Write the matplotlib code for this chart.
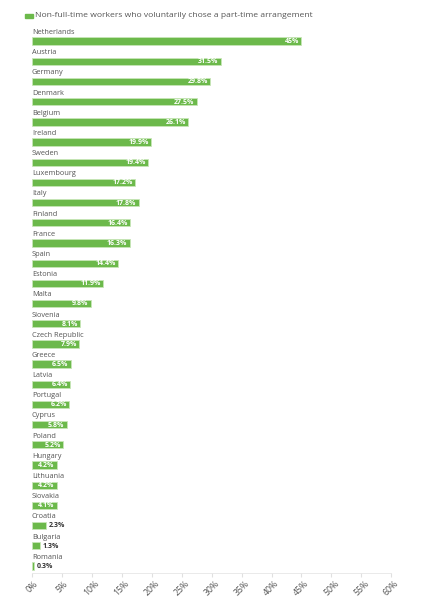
import matplotlib
matplotlib.use("Agg")
import matplotlib.pyplot as plt
from matplotlib.patches import Rectangle

countries = ["Netherlands", "Austria", "Germany", "Denmark", "Belgium", "Ireland",
             "Sweden", "Luxembourg", "Italy", "Finland", "France", "Spain", "Estonia",
             "Malta", "Slovenia", "Czech Republic", "Greece", "Latvia", "Portugal",
             "Cyprus", "Poland", "Hungary", "Lithuania", "Slovakia", "Croatia",
             "Bulgaria", "Romania"]
values = [45, 31.5, 29.8, 27.5, 26.1, 19.9, 19.4, 17.2, 17.8, 16.4, 16.3, 14.4, 11.9,
          9.8, 8.1, 7.9, 6.5, 6.4, 6.2, 5.8, 5.2, 4.2, 4.2, 4.1, 2.3, 1.3, 0.3]
ticks = list(range(0, 61, 5))
legend_label = "Non-full-time workers who voluntarily chose a part-time arrangement"

green = "#6cb94b"
plt.rcParams['font.family'] = ['Open Sans', 'DejaVu Sans']

fig = plt.figure(figsize=(4.48, 6), dpi=100)
ax = fig.add_axes([0.0714, 0.045, 0.802, 0.91])

ypos = list(range(len(countries)))
ax.barh(ypos, values, height=0.36, color=green, edgecolor="#c8e6b8", linewidth=0.6)

for y, name, v in zip(ypos, countries, values):
    ax.text(0, y - 0.43, name, fontsize=5.3, color="#555555", va="center", ha="left")
    txt = f"{v:g}%"
    if v > 3:
        ax.text(v - 0.4, y + 0.02, txt, fontsize=5, color="white", fontweight="bold",
                va="center", ha="right")
    else:
        ax.text(v + 0.5, y + 0.02, txt, fontsize=5, color="#333333", fontweight="bold",
                va="center", ha="left")

ax.set_xlim(0, 60)
ax.set_ylim(26.35, -0.7)
ax.set_yticks([])
ax.set_xticks(ticks)
ax.set_xticklabels([f"{t}%" for t in ticks], rotation=45, ha="center", va="top",
                   fontsize=6.3, color="#555555")
ax.tick_params(axis="x", length=3, color="#e0e0e0", pad=1.5)
for s in ["top", "right", "left"]:
    ax.spines[s].set_visible(False)
ax.spines["bottom"].set_color("#e6e6e6")
ax.spines["bottom"].set_linewidth(0.6)

# legend
fig.patches.append(Rectangle((0.056, 0.970), 0.018, 0.007, transform=fig.transFigure,
                             color=green))
fig.text(0.078, 0.9735, legend_label, fontsize=6.1, color="#555555", va="center", ha="left")

fig.savefig("out.png", dpi=100, facecolor="white")
